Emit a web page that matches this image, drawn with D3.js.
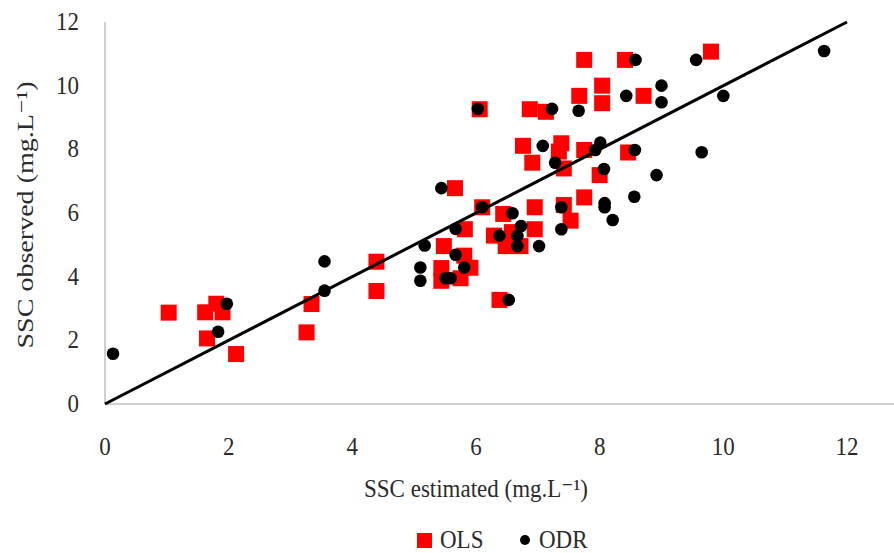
<!DOCTYPE html>
<html>
<head>
<meta charset="utf-8">
<script src="https://cdn.jsdelivr.net/npm/d3@7"></script>
<style>
  body { margin: 0; background: #fff; }
  svg text { font-family: "Liberation Serif", "DejaVu Serif", serif; fill: #2b2b2b; }
</style>
</head>
<body>
<svg id="chart" width="894" height="553"></svg>
<script>
// OLS estimates vs observed (mg.L-1)
const olsEstimated = [1.03, 1.62, 1.80, 1.90, 1.65, 2.12, 3.34, 3.26, 4.39, 4.39,
  5.44, 5.44, 5.48, 5.75, 5.81, 5.91, 5.66, 5.82, 6.06, 6.10,
  6.29, 6.38, 6.44, 6.48, 6.72, 6.58, 6.95, 6.95, 6.76, 6.91,
  6.87, 7.13, 7.38, 7.34, 7.42, 7.42, 7.53, 7.75, 7.75, 7.67,
  7.75, 8.00, 8.04, 8.04, 8.46, 8.41, 8.71, 9.80];
const olsObserved = [2.87, 2.88, 3.15, 2.88, 2.06, 1.57, 3.14, 2.25, 4.47, 3.55,
  4.27, 3.87, 4.96, 3.95, 4.66, 4.28, 6.78, 5.49, 9.26, 6.18,
  5.29, 3.27, 5.97, 4.96, 4.96, 5.40, 6.18, 5.49, 8.11, 7.58,
  9.26, 9.18, 8.19, 7.93, 7.40, 6.25, 5.76, 6.49, 7.98, 9.68,
  10.81, 7.19, 10.00, 9.45, 7.90, 10.81, 9.68, 11.07];

// ODR estimates vs observed
const odrEstimated = [0.13, 1.97, 1.83, 3.55, 3.55, 5.10, 5.10, 5.17, 5.44, 5.51,
  5.59, 5.67, 5.67, 5.81, 6.10, 6.03, 6.38, 6.53, 6.59, 6.73,
  6.67, 6.67, 7.02, 7.08, 7.23, 7.28, 7.38, 7.38, 7.66, 7.93,
  8.01, 8.07, 8.08, 8.08, 8.21, 8.43, 8.56, 8.57, 8.58, 8.92,
  9.00, 9.00, 9.56, 9.65, 10.00, 11.63];
const odrObserved = [1.58, 3.15, 2.27, 4.48, 3.56, 4.29, 3.87, 4.98, 6.78, 3.95,
  3.95, 5.50, 4.69, 4.29, 6.18, 9.27, 5.29, 3.27, 5.99, 5.59,
  5.28, 4.96, 4.96, 8.11, 9.27, 7.58, 6.18, 5.49, 9.21, 7.98,
  8.21, 7.38, 6.31, 6.18, 5.78, 9.68, 6.51, 7.98, 10.81, 7.19,
  10.00, 9.48, 10.81, 7.91, 9.68, 11.09];

const ticks = [0, 2, 4, 6, 8, 10, 12];
const oneToOne = [0, 12];

const svg = d3.select('#chart');
const x = d3.scaleLinear().domain([0, 12]).range([105, 847]);
const y = d3.scaleLinear().domain([0, 12]).range([404, 22]);
const stretch = 1.1;

// axes lines
svg.append('line').attr('x1', 105).attr('x2', 894).attr('y1', y(0)).attr('y2', y(0))
  .attr('stroke', '#bfbfbf').attr('stroke-width', 1.5);
svg.append('line').attr('x1', x(0)).attr('x2', x(0)).attr('y1', y(0)).attr('y2', y(12))
  .attr('stroke', '#bfbfbf').attr('stroke-width', 1.5);

// tick labels
svg.append('g').selectAll('text').data(ticks).enter().append('text')
  .attr('transform', d => `translate(${x(d)},455) scale(1,${stretch})`)
  .attr('text-anchor', 'middle').attr('font-size', 23).text(d => d);
svg.append('g').selectAll('text').data(ticks).enter().append('text')
  .attr('transform', d => `translate(79,${y(d) + 8}) scale(1,${stretch})`)
  .attr('text-anchor', 'end').attr('font-size', 23).text(d => d);

// OLS squares
const olsData = olsEstimated.map((v, i) => [v, olsObserved[i]]);
svg.append('g').selectAll('rect').data(olsData).enter().append('rect')
  .attr('x', d => x(d[0]) - 8).attr('y', d => y(d[1]) - 8)
  .attr('width', 16).attr('height', 16).attr('fill', '#ff0000');

// 1:1 line
svg.append('line')
  .attr('x1', x(oneToOne[0])).attr('y1', y(oneToOne[0]))
  .attr('x2', x(oneToOne[1])).attr('y2', y(oneToOne[1]))
  .attr('stroke', '#000').attr('stroke-width', 3);

// ODR circles
const odrData = odrEstimated.map((v, i) => [v, odrObserved[i]]);
svg.append('g').selectAll('circle').data(odrData).enter().append('circle')
  .attr('cx', d => x(d[0])).attr('cy', d => y(d[1])).attr('r', 6.3).attr('fill', '#000');

// axis titles
svg.append('text').attr('transform', `translate(476,497) scale(1,${stretch})`)
  .attr('text-anchor', 'middle').attr('font-size', 23).text('SSC estimated (mg.L⁻¹)');
svg.append('text').attr('transform', `translate(33,215) scale(1,1.22) rotate(-90)`)
  .attr('text-anchor', 'middle').attr('font-size', 23).text('SSC observed (mg.L⁻¹)');

// legend
svg.append('rect').attr('x', 417).attr('y', 533).attr('width', 15).attr('height', 15).attr('fill', '#ff0000');
svg.append('text').attr('transform', `translate(440,548) scale(1,${stretch})`)
  .attr('font-size', 23).text('OLS');
svg.append('circle').attr('cx', 525).attr('cy', 540).attr('r', 5).attr('fill', '#000');
svg.append('text').attr('transform', `translate(539,548) scale(1,${stretch})`)
  .attr('font-size', 23).text('ODR');
</script>
</body>
</html>
